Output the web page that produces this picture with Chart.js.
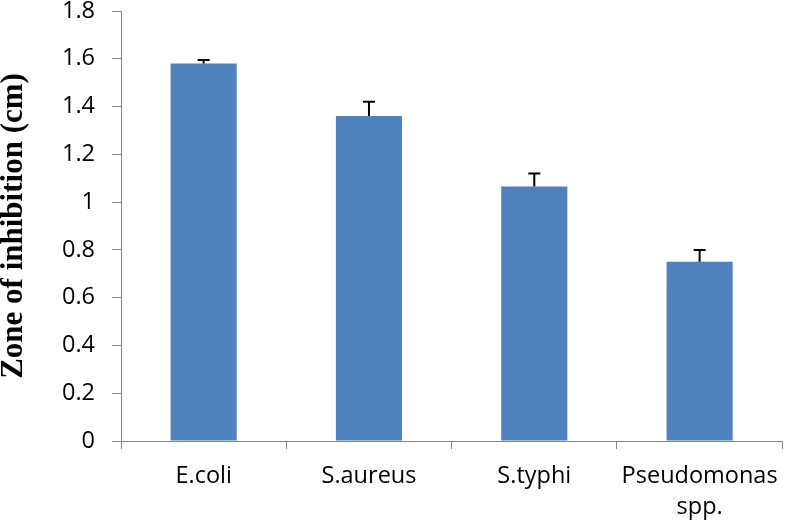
<!DOCTYPE html>
<html>
<head>
<meta charset="utf-8">
<script src="https://cdn.jsdelivr.net/npm/chart.js@4"></script>
<style>
    html, body { margin: 0; padding: 0; background: #fff; }
    #wrap { width: 790px; height: 525px; position: relative; }
</style>
</head>
<body>
<div id="wrap"><canvas id="zoneChart"></canvas></div>
<script>
// Dữ liệu biểu đồ
const categories = ['E.coli', 'S.aureus', 'S.typhi', ['Pseudomonas', 'spp.']];
const zoneValues = [1.58, 1.36, 1.065, 0.75];
const zoneErrors = [0.015, 0.06, 0.055, 0.05];
const yTickLabels = ['0', '0.2', '0.4', '0.6', '0.8', '1', '1.2', '1.4', '1.6', '1.8'];

const axisColor = '#868686';

// Plugin vẽ thanh sai số (chỉ phía trên)
const errorBarPlugin = {
    id: 'errorBars',
    afterDatasetsDraw(chart) {
        const ctx = chart.ctx;
        const meta = chart.getDatasetMeta(0);
        const yScale = chart.scales.y;
        ctx.save();
        ctx.strokeStyle = '#000';
        ctx.lineWidth = 2;
        meta.data.forEach((bar, i) => {
            const x = bar.x;
            const yBase = yScale.getPixelForValue(zoneValues[i]);
            const yTop = yScale.getPixelForValue(zoneValues[i] + zoneErrors[i]);
            ctx.beginPath();
            ctx.moveTo(x, yBase);
            ctx.lineTo(x, yTop);
            ctx.moveTo(x - 6, yTop);
            ctx.lineTo(x + 6, yTop);
            ctx.stroke();
        });
        ctx.restore();
    }
};

const config = {
    type: 'bar',
    data: {
        labels: categories,
        datasets: [{
            data: zoneValues,
            backgroundColor: '#4F81BD',
            borderWidth: 0,
            barPercentage: 0.4,
            categoryPercentage: 1.0
        }]
    },
    options: {
        responsive: true,
        maintainAspectRatio: false,
        animation: false,
        layout: { padding: { top: 0, right: 3, bottom: 0, left: 0 } },
        plugins: {
            legend: { display: false },
            tooltip: { enabled: false }
        },
        scales: {
            x: {
                afterFit(scale) { scale.height = 84; },
                grid: {
                    offset: true,
                    drawOnChartArea: false,
                    drawTicks: true,
                    tickLength: 8,
                    color: axisColor
                },
                border: { color: axisColor, width: 1 },
                ticks: {
                    color: '#000',
                    padding: 12,
                    maxRotation: 0,
                    autoSkip: false,
                    font: { family: 'Open Sans', size: 23.5, lineHeight: 1.32 }
                }
            },
            y: {
                min: 0,
                max: 1.8,
                afterFit(scale) {
                    scale.width = 121;
                    // ticks.padding cũng bị cộng vào lề trên, nên đặt lại
                    scale.paddingTop = 11;
                    scale.paddingBottom = 11;
                },
                grid: {
                    drawOnChartArea: false,
                    drawTicks: true,
                    tickLength: 9,
                    color: axisColor
                },
                border: { color: axisColor, width: 1 },
                ticks: {
                    stepSize: 0.2,
                    color: '#000',
                    padding: 17,
                    font: { family: 'Open Sans', size: 23.5, lineHeight: 1.0 },
                    callback: (value, index) => yTickLabels[index]
                },
                title: {
                    display: true,
                    text: 'Zone of inhibition (cm)',
                    color: '#000',
                    padding: 0,
                    font: { family: 'Liberation Serif', size: 31, weight: 'bold', lineHeight: 0.9 }
                }
            }
        }
    },
    plugins: [errorBarPlugin]
};

new Chart(document.getElementById('zoneChart').getContext('2d'), config);
</script>
</body>
</html>
